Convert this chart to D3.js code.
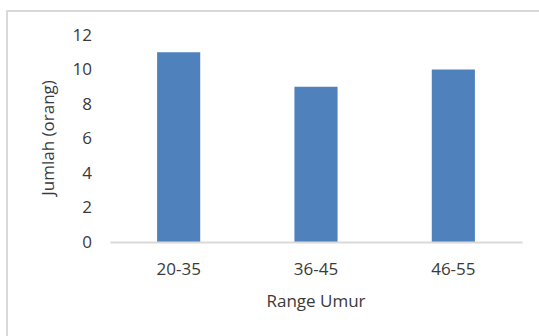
<!DOCTYPE html>
<html><head><meta charset="utf-8">
<script src="https://cdn.jsdelivr.net/npm/d3@7"></script>
<style>body{margin:0;background:#fff}svg{display:block}text{font-family:"Open Sans","Liberation Sans",sans-serif;fill:#3a3a3a}</style>
</head><body>
<script>
const categories = ["20-35","36-45","46-55"];
const values = [11,9,10];
const yTicks = [0,2,4,6,8,10,12];
const xTitle = "Range Umur";
const yTitle = "Jumlah (orang)";

const W=539,H=336, FS=17;
const svg=d3.select("body").append("svg").attr("width",W).attr("height",H);
svg.append("rect").attr("x",7).attr("y",11).attr("width",W+10).attr("height",H+10)
  .attr("fill","none").attr("stroke","#d9d9d9").attr("stroke-width",2);

const x=d3.scaleBand().domain(categories).range([110,522]).paddingInner(0.686).paddingOuter(0.343);
const y=d3.scaleLinear().domain([0,12]).range([242,35]);

svg.selectAll(".bar").data(values).enter().append("rect")
  .attr("x",(d,i)=>x(categories[i])).attr("width",x.bandwidth())
  .attr("y",d=>y(d)).attr("height",d=>y(0)-y(d)).attr("fill","#4f81bd");

const xa=svg.append("g").attr("transform",`translate(0,${y(0)})`)
  .call(d3.axisBottom(x).tickSize(0).tickPadding(0));
xa.select(".domain").attr("stroke","#d9d9d9").attr("stroke-width",2);
xa.selectAll("text").attr("font-size",FS).style("font-family",null).attr("dy",null).attr("y",33);

const ya=svg.append("g").attr("transform",`translate(92,0)`)
  .call(d3.axisLeft(y).tickValues(yTicks).tickSize(0).tickPadding(0));
ya.select(".domain").remove();
ya.selectAll("text").attr("font-size",FS).style("font-family",null);

svg.append("text").attr("x",316).attr("y",307).attr("text-anchor","middle").attr("font-size",FS).text(xTitle);
svg.append("text").attr("transform","translate(54,138) rotate(-90)").attr("text-anchor","middle").attr("font-size",FS).text(yTitle);
</script>
</body></html>
